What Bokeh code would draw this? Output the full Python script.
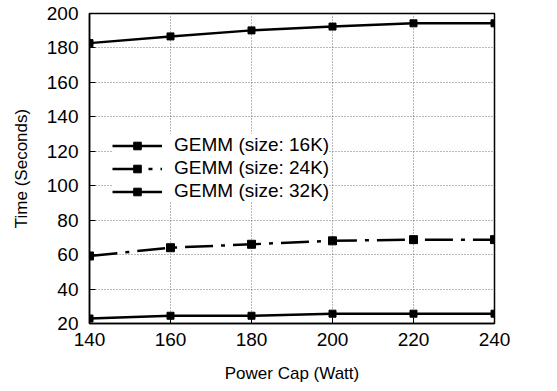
from bokeh.plotting import figure
from bokeh.models import Range1d, Legend, LegendItem, FixedTicker
from bokeh.embed import file_html
from bokeh.resources import INLINE

power_cap = [140, 160, 180, 200, 220, 240]
gemm_16k = [22.9, 24.5, 24.5, 25.7, 25.7, 25.7]
gemm_24k = [59.2, 64.0, 66.0, 68.0, 68.7, 68.7]
gemm_32k = [182.8, 186.7, 190.2, 192.4, 194.3, 194.3]
labels = ["GEMM (size: 16K)", "GEMM (size: 24K)", "GEMM (size: 32K)"]
x_ticks = [140, 160, 180, 200, 220, 240]
y_ticks = [20, 40, 60, 80, 100, 120, 140, 160, 180, 200]

FONT = "Liberation Sans"

p = figure(width=557, height=391, output_backend="svg", toolbar_location=None,
           x_range=Range1d(140, 240), y_range=Range1d(20, 200),
           min_border_left=89, min_border_right=63, min_border_top=13, min_border_bottom=68)

p.outline_line_color = "black"
p.outline_line_width = 1.5
p.background_fill_color = "white"
p.border_fill_color = "white"

for ax in (p.xaxis[0], p.yaxis[0]):
    ax.major_label_text_font = FONT
    ax.major_label_text_font_size = "19px"
    ax.major_label_text_color = "black"
    ax.axis_label_text_font = FONT
    ax.axis_label_text_font_size = "17px"
    ax.axis_label_text_font_style = "normal"
    ax.axis_label_text_color = "black"
    ax.axis_line_color = "black"
    ax.axis_line_width = 1.5
    ax.major_tick_in = 6
    ax.major_tick_out = 0
    ax.major_tick_line_color = "black"
    ax.minor_tick_line_color = None

p.xaxis.major_label_standoff = 9
p.yaxis.major_label_standoff = 11
p.xaxis.ticker = FixedTicker(ticks=x_ticks)
p.yaxis.ticker = FixedTicker(ticks=y_ticks)
p.xaxis.axis_label = "Power Cap (Watt)"
p.yaxis.axis_label = "Time (Seconds)"
p.xaxis.axis_label_standoff = 15
p.yaxis.axis_label_standoff = 13

p.xgrid.ticker = FixedTicker(ticks=x_ticks)
p.ygrid.ticker = FixedTicker(ticks=y_ticks)
for g in (p.xgrid[0], p.ygrid[0]):
    g.grid_line_color = "#707070"
    g.grid_line_dash = "1 2"
    g.grid_line_width = 1

r1l = p.line(power_cap, gemm_16k, line_color="black", line_width=2.5)
r1m = p.scatter(power_cap, gemm_16k, marker="square", size=7, color="black")
r2l = p.line(power_cap, gemm_24k, line_color="black", line_width=2.5, line_dash="28 8 4 8")
r2m = p.scatter(power_cap, gemm_24k, marker="square", size=8, color="black")
r3l = p.line(power_cap, gemm_32k, line_color="black", line_width=2.5)
r3m = p.scatter(power_cap, gemm_32k, marker="square", size=7, color="black")

legend = Legend(items=[
    LegendItem(label=labels[0], renderers=[r1l, r1m]),
    LegendItem(label=labels[1], renderers=[r2l, r2m]),
    LegendItem(label=labels[2], renderers=[r3l, r3m]),
], location=(23, 121))
legend.label_text_font = FONT
legend.label_text_font_size = "19px"
legend.label_text_color = "black"
legend.glyph_width = 50
legend.glyph_height = 19
legend.label_height = 19
legend.spacing = 1
legend.padding = 6
legend.margin = 0
legend.label_standoff = 12
legend.border_line_color = None
legend.background_fill_color = "white"
legend.background_fill_alpha = 1.0
p.add_layout(legend, "center")

open("out.html", "w").write(file_html(p, INLINE))
